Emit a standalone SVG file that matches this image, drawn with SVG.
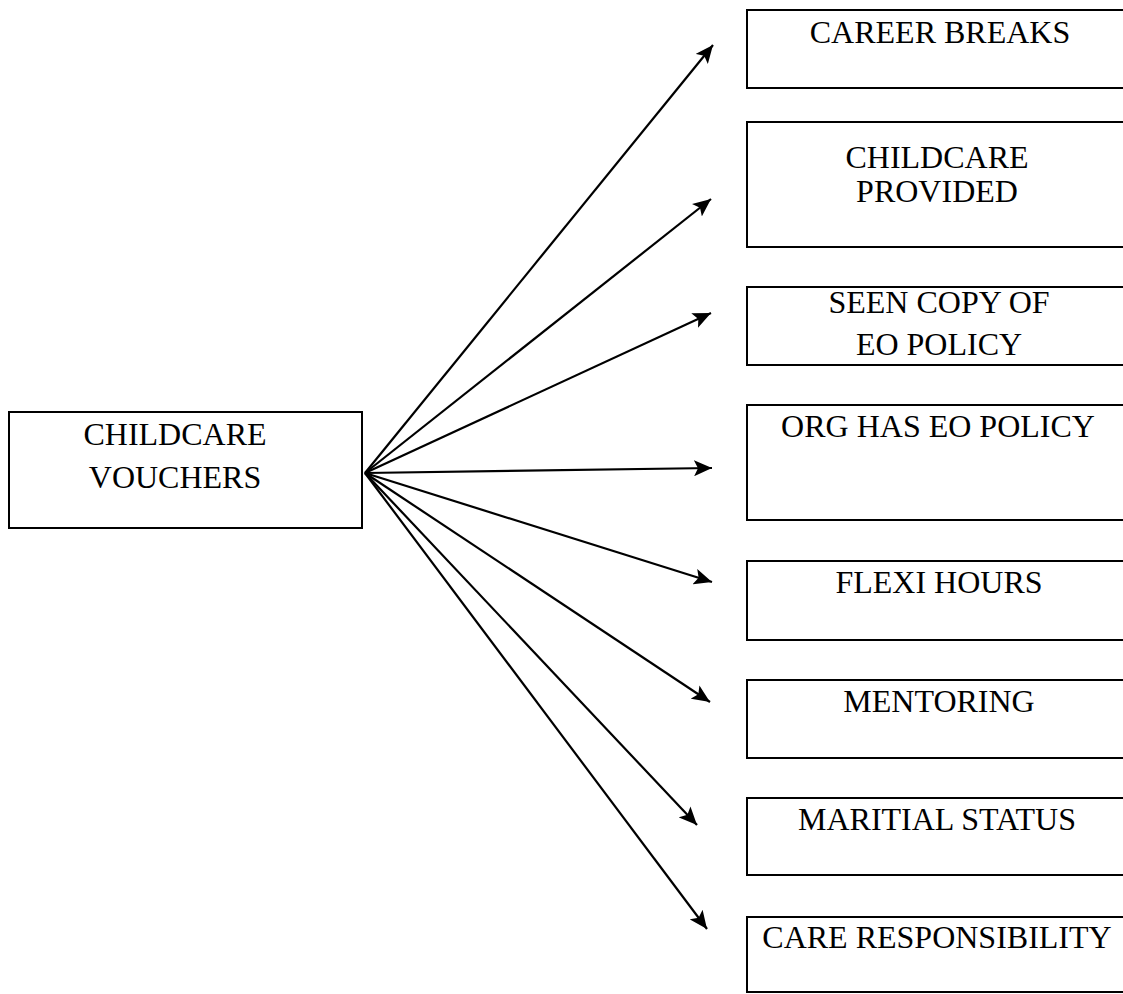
<svg xmlns="http://www.w3.org/2000/svg" width="1123" height="994" viewBox="0 0 1123 994">
  <style>
    .box { fill: #ffffff; stroke: #000000; stroke-width: 2; }
    .label { font-family: "Liberation Serif", "Times New Roman", serif; font-size: 32px; fill: #000000; text-anchor: middle; }
    .link { stroke: #000000; stroke-width: 2.2; fill: none; marker-end: url(#head); }
  </style>
  <defs>
    <marker id="head" markerUnits="userSpaceOnUse" markerWidth="20" markerHeight="16" refX="18" refY="8" orient="auto">
      <path d="M0,0 L18,8 L0,16 L4,8 z" fill="#000000"/>
    </marker>
  </defs>
  <rect width="1123" height="994" fill="#ffffff"/>

  <!-- connectors fanning out from the source box -->
  <g id="connectors">
    <line class="link" x1="365" y1="473" x2="713" y2="45"/>
    <line class="link" x1="365" y1="473" x2="711" y2="199"/>
    <line class="link" x1="365" y1="473" x2="711" y2="313"/>
    <line class="link" x1="365" y1="473" x2="712" y2="468"/>
    <line class="link" x1="365" y1="473" x2="712" y2="582"/>
    <line class="link" x1="365" y1="473" x2="710" y2="702"/>
    <line class="link" x1="365" y1="473" x2="697" y2="825"/>
    <line class="link" x1="365" y1="473" x2="707" y2="929"/>
  </g>

  <g id="childcare-vouchers">
    <rect class="box" x="9" y="412" width="353" height="116"/>
    <text class="label" x="175" y="445">CHILDCARE</text>
    <text class="label" x="175" y="488">VOUCHERS</text>
  </g>

  <g id="career-breaks">
    <rect class="box" x="747" y="10" width="390" height="78"/>
    <text class="label" x="940" y="43">CAREER BREAKS</text>
  </g>

  <g id="childcare-provided">
    <rect class="box" x="747" y="122" width="390" height="125"/>
    <text class="label" x="937" y="168">CHILDCARE</text>
    <text class="label" x="937" y="202">PROVIDED</text>
  </g>

  <g id="seen-copy-eo-policy">
    <rect class="box" x="747" y="287" width="390" height="78"/>
    <text class="label" x="939" y="313">SEEN COPY OF</text>
    <text class="label" x="939" y="355">EO POLICY</text>
  </g>

  <g id="org-has-eo-policy">
    <rect class="box" x="747" y="405" width="390" height="115"/>
    <text class="label" x="938" y="437">ORG HAS EO POLICY</text>
  </g>

  <g id="flexi-hours">
    <rect class="box" x="747" y="561" width="390" height="79"/>
    <text class="label" x="939" y="593">FLEXI HOURS</text>
  </g>

  <g id="mentoring">
    <rect class="box" x="747" y="680" width="390" height="78"/>
    <text class="label" x="939" y="712">MENTORING</text>
  </g>

  <g id="maritial-status">
    <rect class="box" x="747" y="798" width="390" height="77"/>
    <text class="label" x="937" y="830">MARITIAL STATUS</text>
  </g>

  <g id="care-responsibility">
    <rect class="box" x="747" y="917" width="390" height="75"/>
    <text class="label" x="937" y="948">CARE RESPONSIBILITY</text>
  </g>
</svg>
